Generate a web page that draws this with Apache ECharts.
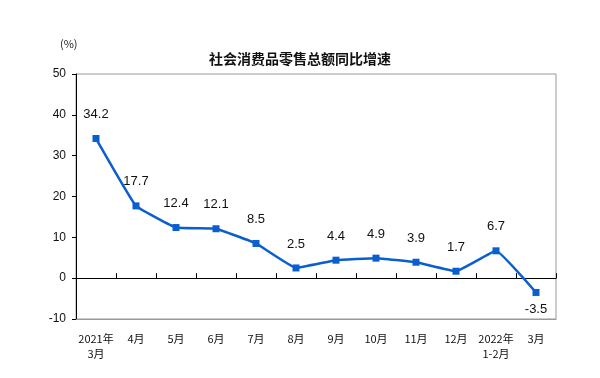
<!DOCTYPE html>
<html>
<head>
<meta charset="utf-8">
<script src="https://cdn.jsdelivr.net/npm/echarts@6/dist/echarts.min.js"></script>
<style>
  html, body { margin: 0; padding: 0; background: #fff; }
  #main { width: 600px; height: 378px; }
</style>
</head>
<body>
<div id="main"></div>
<script>
// 月份
var categories = ["2021年\n3月", "4月", "5月", "6月", "7月", "8月", "9月", "10月", "11月", "12月", "2022年\n1-2月", "3月"];
// 同比增速 (%)
var growth = [34.2, 17.7, 12.4, 12.1, 8.5, 2.5, 4.4, 4.9, 3.9, 1.7, 6.7, -3.5];
var yMin = -10, yMax = 50, yStep = 10;

var lineColor = "#0a5fce";
var font = "Liberation Sans, Arial, Noto Sans CJK SC, sans-serif";

var chart = echarts.init(document.getElementById("main"));
chart.setOption({
  animation: false,
  title: {
    text: "社会消费品零售总额同比增速",
    left: "center",
    top: 47,
    textStyle: { fontSize: 14, fontWeight: "bold", color: "#111", fontFamily: "Noto Sans CJK SC" }
  },
  graphic: [{
    type: "text",
    left: 60,
    top: 38,
    style: { text: "(%)", fontSize: 11, fill: "#222", fontFamily: "Noto Sans CJK SC" }
  }],
  grid: {
    left: 76, right: 44, top: 74, bottom: 59,
    show: true, borderColor: "#999", borderWidth: 1
  },
  xAxis: [
    {
      type: "category",
      data: categories,
      position: "bottom",
      axisLine: { onZero: false, lineStyle: { color: "#999" } },
      axisTick: { show: false },
      axisLabel: { interval: 0, color: "#111", fontSize: 11, margin: 12, lineHeight: 15, fontFamily: "Noto Sans CJK SC" }
    },
    {
      // 零线
      type: "category",
      data: categories,
      position: "bottom",
      axisLine: { onZero: true, lineStyle: { color: "#000", width: 1 } },
      axisTick: { show: true, inside: true, interval: 0, length: 5, lineStyle: { color: "#000" } },
      axisLabel: { show: false }
    }
  ],
  yAxis: {
    type: "value",
    min: yMin, max: yMax, interval: yStep,
    axisLine: { show: true, lineStyle: { color: "#000" } },
    axisTick: { show: true, length: 4, lineStyle: { color: "#000" } },
    axisLabel: { color: "#111", fontSize: 12, margin: 10, fontFamily: font },
    splitLine: { show: false }
  },
  series: [{
    type: "line",
    data: growth.map(function (v) {
      // 负值标签放在下方
      return v < 0 ? { value: v, label: { position: "bottom", distance: 7 } } : v;
    }),
    smooth: 0.08,
    symbol: "rect",
    symbolSize: 7,
    lineStyle: { color: lineColor, width: 2.5 },
    itemStyle: { color: lineColor },
    label: {
      show: true,
      color: "#111",
      fontSize: 13,
      fontFamily: font,
      distance: 14,
      position: "top"
    }
  }]
});
</script>
</body>
</html>
